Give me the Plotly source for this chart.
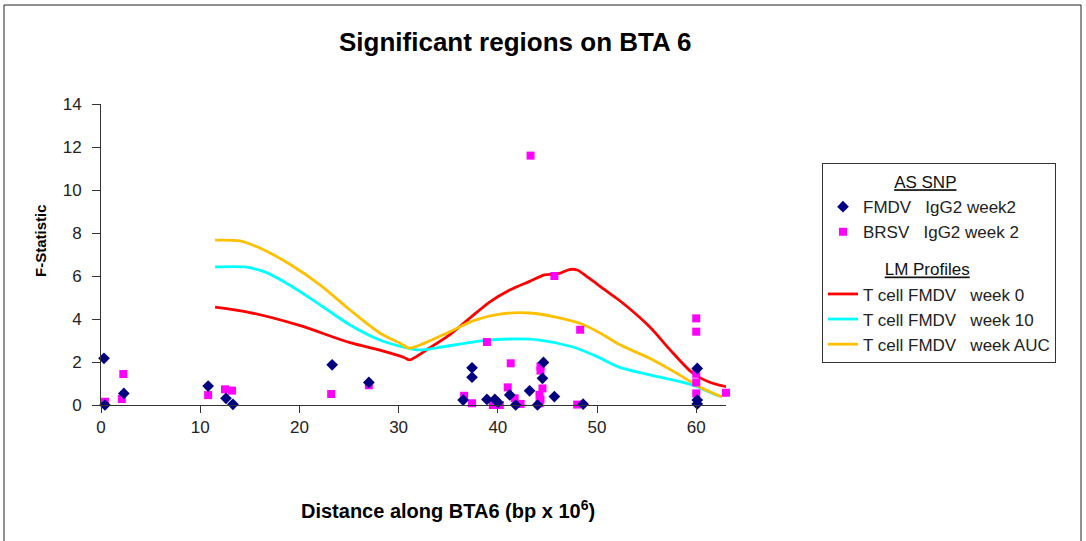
import plotly.graph_objects as go

# ---- data ----
fmdv_x = [0.3, 0.4, 2.3, 10.8, 12.6, 13.3, 23.3, 27.0, 36.5, 37.4, 37.4, 38.9, 39.7, 40.0,
          41.2, 41.8, 43.2, 44.0, 44.5, 44.6, 45.7, 48.6, 60.1, 60.1, 60.1]
fmdv_y = [2.17, 0.0, 0.54, 0.88, 0.31, 0.03, 1.87, 1.05, 0.23, 1.73, 1.29, 0.26, 0.26, 0.12,
          0.47, 0.0, 0.66, 0.0, 1.24, 1.98, 0.39, 0.04, 1.7, 0.23, 0.05]

brsv_x = [0.4, 2.1, 2.25, 10.8, 12.5, 13.2, 23.2, 27.0, 36.6, 37.4, 38.9, 39.5, 40.2, 41.0,
          41.3, 41.7, 42.3, 43.3, 44.3, 44.3, 44.5, 44.2, 44.3, 44.2, 45.7, 48.0, 48.3,
          60.0, 60.0, 60.0, 60.0, 60.0, 63.0]
brsv_y = [0.15, 0.28, 1.44, 0.46, 0.73, 0.67, 0.51, 0.92, 0.43, 0.08, 2.93, 0.0, 0.0, 0.82,
          1.94, 0.31, 0.05, 11.6, 1.8, 1.6, 0.77, 0.47, 0.25, 0.08, 6.0, 0.02, 3.5,
          4.03, 3.41, 1.45, 1.05, 0.54, 0.57]

wk0_x = [11.5, 15.0, 20.0, 25.1, 28.1, 30.6, 31.1, 33.1, 35.1, 37.2, 39.2, 41.2, 43.2, 44.7,
         46.2, 47.2, 48.0, 49.2, 50.8, 52.3, 55.3, 57.3, 59.6, 61.3, 63.3]
wk0_y = [4.55, 4.3, 3.7, 2.9, 2.55, 2.2, 2.1, 2.65, 3.25, 4.05, 4.8, 5.35, 5.75, 6.05,
         6.12, 6.3, 6.28, 5.9, 5.35, 4.85, 3.64, 2.6, 1.5, 1.07, 0.82]

wk10_x = [11.5, 14.5, 16.5, 19.0, 22.1, 25.1, 28.1, 30.1, 32.1, 34.1, 38.5, 41.2, 44.2, 47.5,
          50.0, 52.3, 55.3, 59.6, 62.0, 62.6]
wk10_y = [6.42, 6.42, 6.19, 5.58, 4.65, 3.72, 3.02, 2.74, 2.56, 2.68, 2.99, 3.07, 3.02, 2.71,
          2.25, 1.75, 1.4, 0.93, 0.47, 0.39]

auc_x = [11.5, 14.0, 16.0, 19.0, 22.1, 25.1, 28.1, 30.1, 31.1, 32.6, 35.1, 37.7, 40.2, 43.2,
         46.2, 48.7, 50.3, 52.3, 55.3, 58.6, 60.3, 62.5]
auc_y = [7.67, 7.63, 7.3, 6.56, 5.58, 4.42, 3.35, 2.88, 2.65, 2.88, 3.4, 3.95, 4.23, 4.28,
         4.05, 3.72, 3.35, 2.8, 2.17, 1.32, 0.85, 0.39]

x_ticks = [0, 10, 20, 30, 40, 50, 60]
y_ticks = [0, 2, 4, 6, 8, 10, 12, 14]

FONT = "Liberation Sans, Arial, sans-serif"
NB = "\u00a0"

# plot-area geometry (pixels) used to place paper-referenced decorations
L, T, PW, PH = 101, 104, 625, 301


def px(xp):
    return (xp - L) / PW


def py(yp):
    return (T + PH - yp) / PH


fig = go.Figure()

line_w = 2.8
fig.add_trace(go.Scatter(x=wk0_x, y=wk0_y, mode="lines", name="T cell FMDV" + NB * 3 + "week 0",
                         line=dict(color="#FF0000", width=line_w, shape="spline", smoothing=0.8),
                         legendgroup="lm", legendrank=3,
                         legendgrouptitle=dict(text=NB * 12 + "<u>LM Profiles</u>",
                                               font=dict(size=17, family=FONT, color="#111"))))
fig.add_trace(go.Scatter(x=wk10_x, y=wk10_y, mode="lines", name="T cell FMDV" + NB * 3 + "week 10",
                         line=dict(color="#00FFFF", width=line_w, shape="spline", smoothing=0.8),
                         legendgroup="lm", legendrank=4))
fig.add_trace(go.Scatter(x=auc_x, y=auc_y, mode="lines", name="T cell FMDV" + NB * 3 + "week AUC",
                         line=dict(color="#FFC000", width=line_w, shape="spline", smoothing=0.8),
                         legendgroup="lm", legendrank=5))
fig.add_trace(go.Scatter(x=brsv_x, y=brsv_y, mode="markers", name="BRSV" + NB * 3 + "IgG2 week 2",
                         marker=dict(symbol="square", size=8, color="#FF00FF"),
                         legendgroup="snp", legendrank=2, cliponaxis=False))
fig.add_trace(go.Scatter(x=fmdv_x, y=fmdv_y, mode="markers", name="FMDV" + NB * 3 + "IgG2 week2",
                         marker=dict(symbol="diamond", size=9, color="#000080"),
                         legendgroup="snp", legendrank=1, cliponaxis=False,
                         legendgrouptitle=dict(text=NB * 14 + "<u>AS SNP</u>",
                                               font=dict(size=17, family=FONT, color="#111"))))

fig.update_layout(
    width=1086, height=541,
    margin=dict(l=L, r=1086 - L - PW, t=T, b=541 - T - PH),
    paper_bgcolor="white", plot_bgcolor="white",
    font=dict(family=FONT, size=16, color="#222"),
    showlegend=True,
    legend=dict(x=px(822), xanchor="left", y=py(163), yanchor="top",
                bordercolor="#333", borderwidth=1, bgcolor="white",
                font=dict(size=17, family=FONT, color="#222"),
                traceorder="grouped", tracegroupgap=12, itemwidth=30),
    xaxis=dict(range=[0, 63], tickvals=x_ticks, ticks="outside", ticklen=7, tickcolor="#333",
               showline=True, linecolor="#333", linewidth=1, showgrid=False, zeroline=False,
               tickfont=dict(size=17, family=FONT, color="#222")),
    yaxis=dict(range=[0, 14], tickvals=y_ticks, ticks="outside", ticklen=8, tickcolor="#333",
               showline=True, linecolor="#333", linewidth=1, showgrid=False, zeroline=False,
               ticklabelstandoff=7,
               tickfont=dict(size=17, family=FONT, color="#222")),
    annotations=[
        dict(text="<b>Significant regions on BTA 6</b>", xref="paper", yref="paper",
             x=px(515), y=py(42), xanchor="center", yanchor="middle",
             showarrow=False, font=dict(size=26, family=FONT, color="#000")),
        dict(text="<b>Distance along BTA6 (bp x 10<sup>6</sup>)</b>", xref="paper", yref="paper",
             x=px(448), y=py(509), xanchor="center", yanchor="middle",
             showarrow=False, font=dict(size=20, family=FONT, color="#000")),
        dict(text="<b>F-Statistic</b>", xref="paper", yref="paper", textangle=-90,
             x=px(40), y=py(240), xanchor="center", yanchor="middle",
             showarrow=False, font=dict(size=15, family=FONT, color="#000")),
    ],
    shapes=[
        dict(type="rect", xref="paper", yref="paper",
             x0=px(4), x1=px(1081), y0=py(560), y1=py(5),
             line=dict(color="#222", width=1), fillcolor="rgba(0,0,0,0)", layer="below"),
    ],
)

fig.write_html("out.html", config={"displayModeBar": False},
               post_script="document.body.style.margin='0';")
